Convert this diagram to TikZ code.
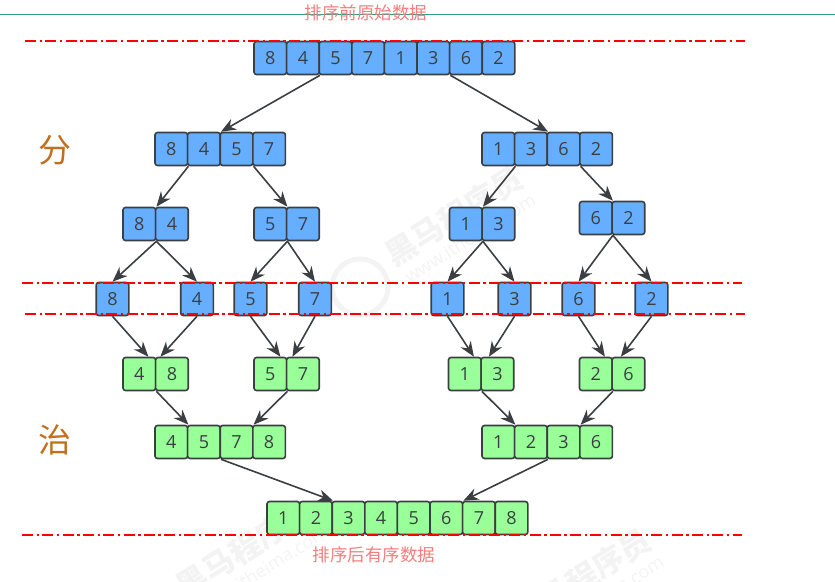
\documentclass[tikz,border=0pt]{standalone}
\usepackage{fontspec}
\setmainfont{Open Sans}
\newfontfamily\cjk{Noto Sans CJK SC}
\usetikzlibrary{arrows.meta}
\definecolor{splitblue}{HTML}{66AEFF}
\definecolor{mergegreen}{HTML}{99FF99}
\definecolor{boxline}{HTML}{3C3F41}
\definecolor{notered}{HTML}{F27E7E}
\definecolor{sideorange}{HTML}{C0701E}
\definecolor{toprule}{HTML}{2E9E82}
\definecolor{markgray}{HTML}{F3F3F3}
\tikzset{
    cell/.style={draw=boxline, line width=1.6pt, rounded corners=2.5pt, minimum width=32.6pt,
                 minimum height=33pt, inner sep=0pt, text=boxline, font=\fontsize{18}{18}\selectfont},
    blue cell/.style={cell, fill=splitblue},
    green cell/.style={cell, fill=mergegreen},
    link/.style={draw=boxline, line width=1.6pt, -{Stealth[length=15pt,width=12pt]}},
    cut/.style={red, line width=1.5pt, dash pattern=on 11pt off 3.6pt on 2.4pt off 3.3pt},
    note/.style={text=notered, font=\cjk\fontsize{17.5}{17.5}\selectfont, inner sep=0pt},
    side/.style={text=sideorange, font=\cjk\fontsize{33}{33}\selectfont, inner sep=0pt},
    markbig/.style={text=markgray, rotate=32, inner sep=0pt, font=\cjk\bfseries\fontsize{31}{31}\selectfont},
    marksmall/.style={text=markgray, rotate=32, inner sep=0pt, font=\fontsize{18}{18}\selectfont}
}
% one row of boxes: style, name, first centre x, y, digits
\newcommand{\cellrow}[5]{
    \foreach \d [count=\i] in {#5}
        \node[#1] (#2\i) at ({#3+(\i-1)*32.6}, #4) {\d};
}
\begin{document}
\begin{tikzpicture}[x=1pt, y=-1pt]
    \useasboundingbox (0,0) rectangle (835,581);

    % Watermarks behind everything
    \node[markbig] (markA) at (454,216) {黑马程序员};
    \node[marksmall] (webA) at (470,238) {www.itheima.com};
    \node[markbig] (markB) at (245,548) {黑马程序员};
    \node[marksmall] (webB) at (262,570) {www.itheima.com};
    \node[markbig] (markC) at (582,578) {黑马程序员};
    \node[marksmall] (webC) at (598,600) {www.itheima.com};
    \node[draw=markgray, line width=5pt, circle, minimum size=56pt] (logo) at (360,287) {};

    % Line across the top and the texts
    \coordinate (ruleL) at (0,14);
    \coordinate (ruleR) at (835,14);
    \draw[toprule, line width=0.8pt] (ruleL) -- (ruleR);
    \node[note] (before) at (366,13) {排序前原始数据};
    \node[note] (after) at (374,555) {排序后有序数据};
    \node[side] (fen) at (55,150) {分};
    \node[side] (zhi) at (55,440) {治};

    % Splitting part
    \cellrow{blue cell}{a}{270.3}{58}{8,4,5,7,1,3,6,2}
    \cellrow{blue cell}{b}{171.3}{149}{8,4,5,7}
    \cellrow{blue cell}{c}{498.3}{149}{1,3,6,2}
    \cellrow{blue cell}{d}{139.3}{224}{8,4}
    \cellrow{blue cell}{e}{270.3}{224}{5,7}
    \cellrow{blue cell}{f}{465.8}{224}{1,3}
    \cellrow{blue cell}{g}{595.8}{218}{6,2}
    \node[blue cell] (h1) at (112.5,299) {8};
    \node[blue cell] (h2) at (197,299) {4};
    \node[blue cell] (h3) at (250.5,299) {5};
    \node[blue cell] (h4) at (315,299) {7};
    \node[blue cell] (h5) at (447.5,299) {1};
    \node[blue cell] (h6) at (514.5,299) {3};
    \node[blue cell] (h7) at (578.5,299) {6};
    \node[blue cell] (h8) at (651.5,299) {2};

    % Merging part
    \cellrow{green cell}{m}{139.3}{374}{4,8}
    \cellrow{green cell}{n}{270.3}{374}{5,7}
    \cellrow{green cell}{o}{464.8}{374}{1,3}
    \cellrow{green cell}{p}{595.8}{374}{2,6}
    \cellrow{green cell}{q}{171.3}{442}{4,5,7,8}
    \cellrow{green cell}{r}{498.3}{442}{1,2,3,6}
    \cellrow{green cell}{s}{283.3}{518}{1,2,3,4,5,6,7,8}

    % Arrows going down
    \draw[link] (a2.south east) -- (b2.north east);
    \draw[link] (a6.south east) -- (c2.north east);
    \draw[link] (b1.south east) -- (d1.north east);
    \draw[link] (b3.south east) -- (e1.north east);
    \draw[link] (c1.south east) -- (f1.north east);
    \draw[link] (c3.south east) -- (g1.north east);
    \draw[link] (d1.south east) -- (h1.north);
    \draw[link] (d1.south east) -- (h2.north);
    \draw[link] (e1.south east) -- (h3.north);
    \draw[link] (e1.south east) -- (h4.north);
    \draw[link] (f1.south east) -- (h5.north);
    \draw[link] (f1.south east) -- (h6.north);
    \draw[link] (g1.south east) -- (h7.north);
    \draw[link] (g1.south east) -- (h8.north);
    \draw[link] (h1.south) -- ([xshift=-8pt]m1.north east);
    \draw[link] (h2.south) -- ([xshift=4pt]m1.north east);
    \draw[link] (h3.south) -- ([xshift=-7pt]n1.north east);
    \draw[link] (h4.south) -- ([xshift=5pt]n1.north east);
    \draw[link] (h5.south) -- ([xshift=-8pt]o1.north east);
    \draw[link] (h6.south) -- ([xshift=7pt]o1.north east);
    \draw[link] (h7.south) -- ([xshift=-8pt]p1.north east);
    \draw[link] (h8.south) -- ([xshift=8pt]p1.north east);
    \draw[link] (m1.south east) -- (q1.north east);
    \draw[link] (n1.south east) -- (q3.north east);
    \draw[link] (o1.south east) -- (r1.north east);
    \draw[link] (p1.south east) -- (r3.north east);
    \draw[link] (q2.south east) -- (s2.north east);
    \draw[link] (r2.south east) -- (s6.north east);

    % Red dash-dot lines
    \coordinate (cutAL) at (25,41);  \coordinate (cutAR) at (745,41);
    \coordinate (cutBL) at (22,283); \coordinate (cutBR) at (742,283);
    \coordinate (cutCL) at (25,314); \coordinate (cutCR) at (745,314);
    \coordinate (cutDL) at (22,535); \coordinate (cutDR) at (742,535);
    \draw[cut] (cutAL) -- (cutAR);
    \draw[cut] (cutBL) -- (cutBR);
    \draw[cut] (cutCL) -- (cutCR);
    \draw[cut] (cutDL) -- (cutDR);
\end{tikzpicture}
\end{document}
